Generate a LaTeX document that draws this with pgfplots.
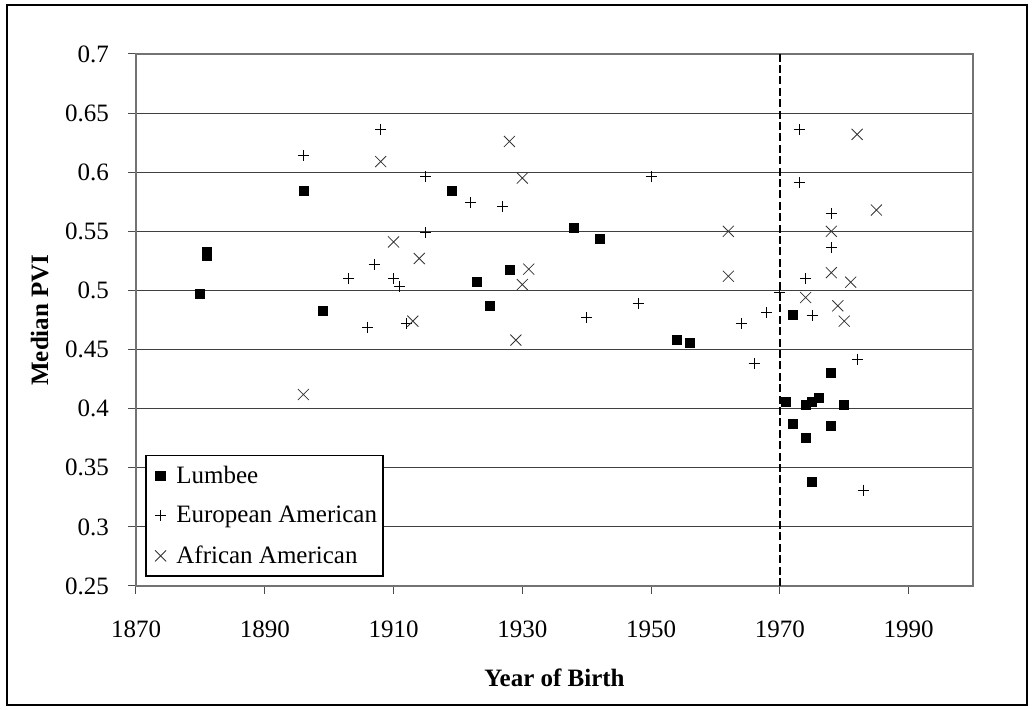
\documentclass[border=0pt]{standalone}
\usepackage{fontspec}
\setmainfont{Liberation Serif}
\usepackage{pgfplots}
\pgfplotsset{compat=1.18}
\pgfplotstableread{
x y
1880 0.497
1881 0.533
1881 0.529
1896 0.584
1899 0.483
1919 0.584
1923 0.507
1925 0.487
1928 0.517
1938 0.553
1942 0.544
1954 0.458
1956 0.456
1971 0.406
1972 0.479
1972 0.387
1974 0.403
1974 0.375
1975 0.406
1975 0.338
1976 0.409
1978 0.430
1978 0.385
1980 0.403
}\lumbee
\pgfplotstableread{
x y
1896 0.614
1903 0.510
1906 0.469
1907 0.522
1908 0.636
1910 0.510
1911 0.503
1912 0.472
1915 0.596
1915 0.549
1922 0.574
1927 0.571
1940 0.477
1948 0.489
1950 0.596
1964 0.472
1966 0.438
1968 0.481
1970 0.498
1973 0.636
1973 0.591
1974 0.510
1975 0.479
1978 0.565
1978 0.536
1982 0.442
1983 0.331
}\european
\pgfplotstableread{
x y
1896 0.412
1908 0.609
1910 0.541
1913 0.474
1914 0.527
1928 0.626
1929 0.458
1930 0.595
1930 0.505
1931 0.518
1962 0.550
1962 0.512
1974 0.494
1978 0.550
1978 0.515
1979 0.487
1980 0.474
1981 0.507
1982 0.632
1985 0.568
}\african
\begin{document}
\begin{tikzpicture}
\path[use as bounding box] (0,0) rectangle (517pt,355pt);
\draw[line width=0.9pt] (3.5pt,2.5pt) rectangle (513.5pt,352.5pt);
\begin{axis}[
  at={(68pt,62pt)}, anchor=south west,
  scale only axis, width=418.5pt, height=266pt,
  xmin=1870, xmax=2000, ymin=0.25, ymax=0.7,
  xtick={1870,1890,1910,1930,1950,1970,1990},
  ytick={0.25,0.3,0.35,0.4,0.45,0.5,0.55,0.6,0.65,0.7},
  yticklabels={0.25,0.3,0.35,0.4,0.45,0.5,0.55,0.6,0.65,0.7},
  xticklabel style={/pgf/number format/1000 sep={}, yshift=-10pt},
  yticklabel style={xshift=-6pt},
  /pgf/number format/assume math mode=true,
  tick label style={font=\fontsize{12.5}{15}\selectfont},
  tick align=outside, major tick length=4pt,
  xtick pos=bottom, ytick pos=left,
  tick style={black!70, line width=0.5pt},
  axis line style={black!55, line width=0.6pt},
  ymajorgrids, major grid style={black!75, line width=0.5pt},
  xlabel={\bfseries Year of Birth},
  ylabel={\bfseries Median PVI},
  label style={font=\fontsize{12.5}{15}\selectfont},
  xlabel style={at={(axis description cs:0.5,0)}, anchor=center, yshift=-46pt},
  ylabel style={at={(axis description cs:-0.115,0.5)}, anchor=center},
  legend cell align=left,
  legend image code/.code={\path (0pt,0pt) (11.5pt,0pt); \draw[#1] plot coordinates {(6pt,0pt)};},
  legend style={at={(axis description cs:0,0)}, anchor=south west, xshift=4.5pt, yshift=4.5pt,
    draw=black, line width=0.8pt, font=\fontsize{12.5}{15}\selectfont, row sep=6pt,
    inner xsep=1pt, inner ysep=3pt},
]
\addplot[only marks, mark=square*, mark size=2.25pt, black] table {\lumbee};
\addlegendentry{Lumbee}
\addplot[only marks, mark=+, mark size=2.75pt, black, line width=0.5pt] table {\european};
\addlegendentry{European American}
\addplot[only marks, mark=x, mark size=3.9pt, black!80, line width=0.4pt] table {\african};
\addlegendentry{African American}
\addplot[black, line width=1pt, dash pattern=on 4pt off 1.7pt, forget plot] coordinates {(1970,0.25) (1970,0.7)};
\end{axis}
\end{tikzpicture}
\end{document}
